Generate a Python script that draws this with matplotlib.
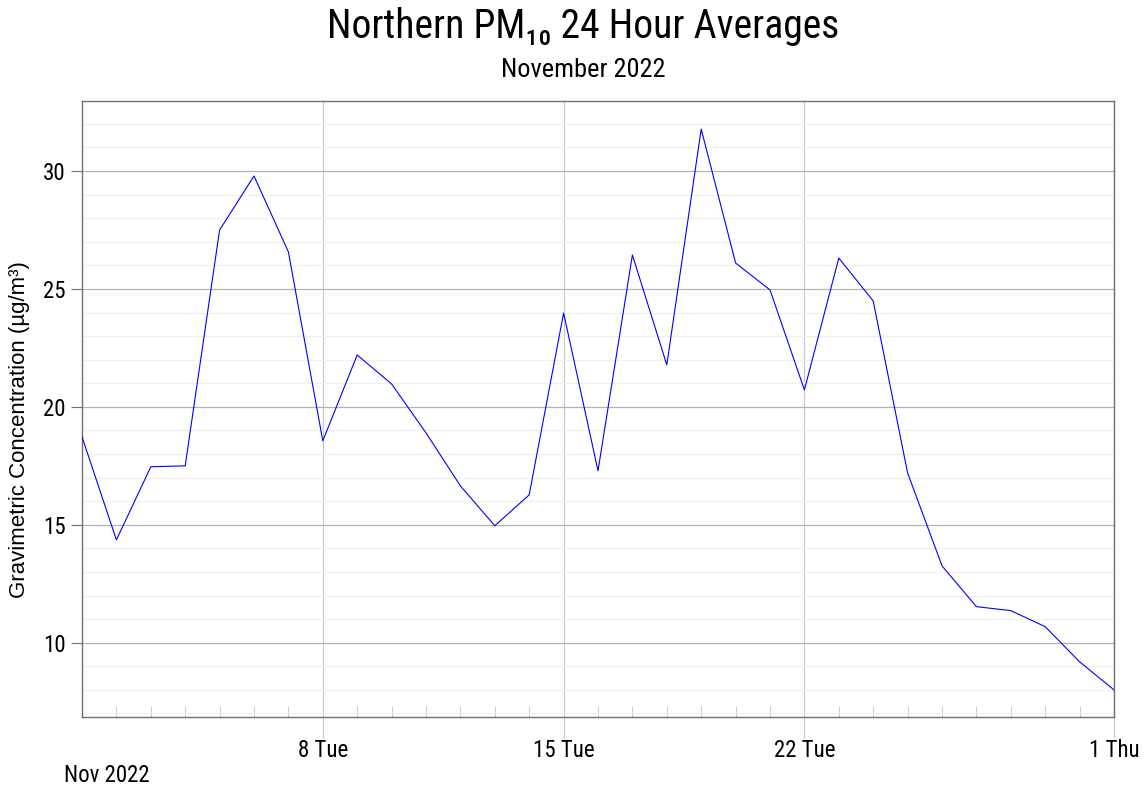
import matplotlib
matplotlib.use("Agg")
import matplotlib.pyplot as plt
import matplotlib.dates as mdates
import numpy as np
import pandas as pd
from matplotlib.ticker import MultipleLocator, FixedLocator

dates = pd.date_range("2022-11-01", "2022-12-01", freq="D")
values = [18.73, 14.36, 17.46, 17.5, 27.5, 29.79, 26.57, 18.56, 22.2, 20.97,
          18.9, 16.65, 14.96, 16.27, 23.98, 17.29, 26.44, 21.78, 31.78, 26.1,
          24.96, 20.72, 26.31, 24.49, 17.2, 13.26, 11.53, 11.36, 10.68, 9.19, 8.0]
major_dates = pd.to_datetime(["2022-11-08", "2022-11-15", "2022-11-22", "2022-12-01"])
major_labels = ["8 Tue", "15 Tue", "22 Tue", "1 Thu"]

narrow = ["Roboto Condensed", "DejaVu Sans"]
plain = ["Liberation Sans", "DejaVu Sans"]

fig = plt.figure(figsize=(11.48, 7.9), dpi=100)
ax = fig.add_axes([82/1148, 1-717/790, (1114-82)/1148, (717-101)/790])

ax.plot(dates, values, color="#0000ff", lw=0.8, zorder=3)
ax.set_xlim(dates[0], dates[-1])
ax.set_ylim(6.85, 32.97)

ax.yaxis.set_major_locator(MultipleLocator(5))
ax.yaxis.set_minor_locator(MultipleLocator(1))
ax.grid(which="major", axis="y", color="#b4b4b4", lw=0.9)
ax.grid(which="minor", axis="y", color="#f0f0f0", lw=0.9)

ax.xaxis.set_major_locator(FixedLocator(mdates.date2num(major_dates)))
ax.set_xticklabels(major_labels)
ax.xaxis.set_minor_locator(FixedLocator(mdates.date2num(dates)))
ax.grid(which="major", axis="x", color="#c8c8c8", lw=0.9)

for s in ax.spines.values():
    s.set_color("#707070")
    s.set_linewidth(1.0)

ax.tick_params(axis="y", which="major", direction="out", length=8, color="#707070",
               labelsize=16.5, pad=4)
ax.tick_params(axis="y", which="minor", length=0)
ax.tick_params(axis="x", which="major", direction="out", length=15, color="#c8c8c8",
               labelsize=16.5, pad=1)
ax.tick_params(axis="x", which="minor", direction="in", length=8, color="#c0c0c0")
for lab in ax.get_xticklabels() + ax.get_yticklabels():
    lab.set_family(narrow)

ax.set_ylabel("Gravimetric Concentration (µg/m³)", family=plain, fontsize=16)
ax.yaxis.set_label_coords((30 - 82) / 1032, (717 - 430) / 616)

fig.text(583/1148, 1-27/790, "Northern PM₁₀ 24 Hour Averages", ha="center", va="center",
         fontsize=28.5, family=narrow)
fig.text(583/1148, 1-70/790, "November 2022", ha="center", va="center",
         fontsize=19, family=narrow)
fig.text(64/1148, 1-776/790, "Nov 2022", ha="left", va="center", fontsize=16.5, family=narrow)

fig.savefig("out.png", dpi=100)
